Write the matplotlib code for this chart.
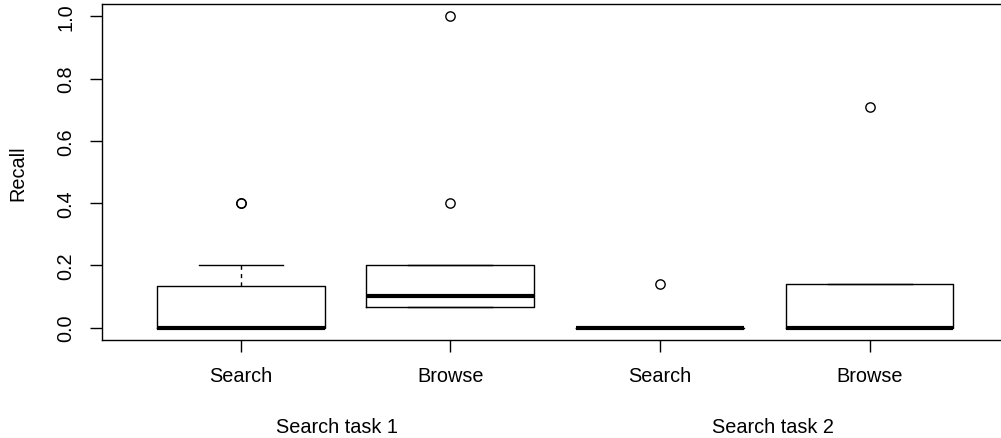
import matplotlib
matplotlib.use("Agg")
import matplotlib.pyplot as plt

plt.rcParams["font.family"] = ["Liberation Sans", "DejaVu Sans"]

# box statistics
conditions = ["Search", "Browse", "Search", "Browse"]
tasks = ["Search task 1", "Search task 2"]
task_pos = [1.46, 3.54]
q1 = [0.0, 0.067, 0.0, 0.0]
medians = [0.0, 0.1, 0.0, 0.0]
q3 = [0.133, 0.2, 0.0, 0.14]
whis_lo = [0.0, 0.067, 0.0, 0.0]
whis_hi = [0.2, 0.2, 0.0, 0.14]
outliers = [[0.4, 0.4], [0.4, 1.0], [0.14], [0.71]]

stats = []
for i in range(len(conditions)):
    stats.append({"q1": q1[i], "med": medians[i], "q3": q3[i],
                  "whislo": whis_lo[i], "whishi": whis_hi[i],
                  "fliers": outliers[i], "label": conditions[i]})

fig = plt.figure(figsize=(10.01, 4.39), dpi=100)
ax = fig.add_axes([0.1022, 0.2232, 0.9048, 0.7654])

ax.bxp(stats, positions=range(1, len(stats) + 1), widths=0.8, capwidths=0.4,
       boxprops=dict(color="black", lw=1.0),
       whiskerprops=dict(color="black", lw=1.0, linestyle=(0, (3, 3))),
       capprops=dict(color="black", lw=1.0),
       medianprops=dict(color="black", lw=3.0, solid_capstyle="butt"),
       flierprops=dict(marker="o", markersize=6.7, markerfacecolor="none",
                       markeredgecolor="black", markeredgewidth=1.0))

ax.set_xlim(0.34, 4.66)
ax.set_ylim(-0.04, 1.04)
ax.set_yticks([0.0, 0.2, 0.4, 0.6, 0.8, 1.0])
ax.set_yticklabels(["0.0", "0.2", "0.4", "0.6", "0.8", "1.0"],
                   rotation=90, va="center")
ax.tick_params(axis="both", direction="out", length=8.6, width=1.0,
               labelsize=14.3, color="black")
ax.tick_params(axis="y", pad=11)
ax.tick_params(axis="x", pad=10)
for s in ax.spines.values():
    s.set_linewidth(1.0)
# the frame runs past the right edge of the picture
ax.spines["right"].set_visible(False)

for x, t in zip(task_pos, tasks):
    ax.text(x, -0.256, t, transform=ax.get_xaxis_transform(),
            ha="center", va="center", fontsize=14.3)

fig.text(18 / 1001, 0.606, "Recall", rotation=90, ha="center", va="center",
         fontsize=14.3)

fig.savefig("out.png", dpi=100)
